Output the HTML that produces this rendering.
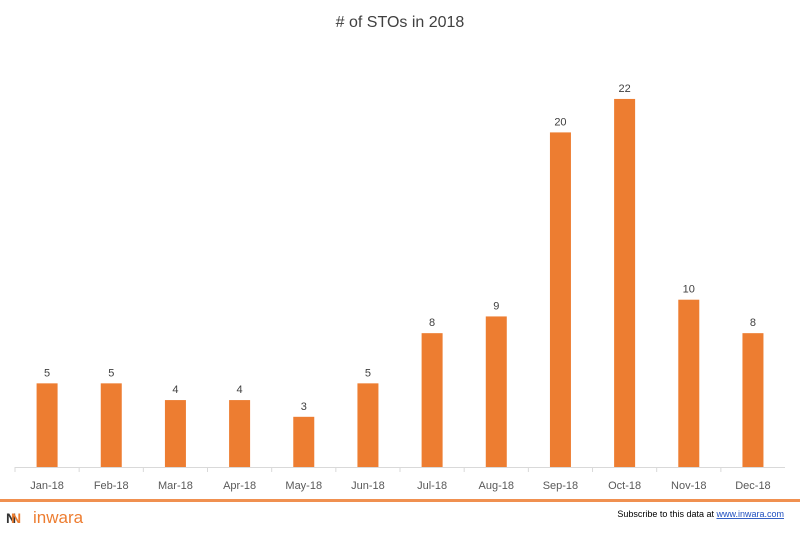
<!DOCTYPE html>
<html><head><meta charset="utf-8"><style>
body{margin:0;width:800px;height:532px;background:#fff;overflow:hidden;font-family:"Liberation Sans",sans-serif}
</style></head><body>
<svg id="chart" width="800" height="532">
<text x="400" y="27" text-anchor="middle" font-size="16" fill="#404040"># of STOs in 2018</text>
<g id="bars"></g>
<line x1="15" y1="467.5" x2="785" y2="467.5" stroke="#d9d9d9"/>
<rect x="0" y="499" width="800" height="3" fill="#ed7d31" opacity="0.85"/>
<g>
<text x="6" y="523" font-size="14" font-weight="bold" fill="#333">N</text>
<text x="11" y="523" font-size="14" font-weight="bold" fill="#ed7d31">N</text>
<text x="33" y="523" font-size="17" fill="#ed7d31">inwara</text>
</g>
<text x="784" y="517" text-anchor="end" font-size="9" fill="#000">Subscribe to this data at <tspan fill="#1f4fbf" text-decoration="underline">www.inwara.com</tspan></text>
</svg>
<script>
const categories=["Jan-18","Feb-18","Mar-18","Apr-18","May-18","Jun-18","Jul-18","Aug-18","Sep-18","Oct-18","Nov-18","Dec-18"];
const values=[5,5,4,4,3,5,8,9,20,22,10,8];
const NS="http://www.w3.org/2000/svg";
const x0=15,step=64.17,base=467,unit=16.73,bw=21;
const xs=i=>x0+step*i+step/2;
const ys=v=>base-v*unit;
const g=document.getElementById('bars');
categories.forEach((c,i)=>{
  const r=document.createElementNS(NS,'rect');
  r.setAttribute('x',xs(i)-bw/2);r.setAttribute('y',ys(values[i]));
  r.setAttribute('width',bw);r.setAttribute('height',base-ys(values[i]));
  r.setAttribute('fill','#ed7d31');
  
  
  g.appendChild(r);
  const t=document.createElementNS(NS,'text');
  t.setAttribute('x',xs(i));t.setAttribute('y',ys(values[i])-7);
  t.setAttribute('text-anchor','middle');t.setAttribute('font-size','11');t.setAttribute('fill','#404040');
  t.textContent=values[i];
  
  
  g.appendChild(t);
  const l=document.createElementNS(NS,'text');
  l.setAttribute('x',xs(i));l.setAttribute('y',489);
  l.setAttribute('text-anchor','middle');l.setAttribute('font-size','11');l.setAttribute('fill','#595959');
  l.textContent=c;
  
  
  g.appendChild(l);
  const tk=document.createElementNS(NS,'line');
  const tx=x0+step*i;
  tk.setAttribute('x1',tx);tk.setAttribute('x2',tx);tk.setAttribute('y1',467);tk.setAttribute('y2',472);
  tk.setAttribute('stroke','#d9d9d9');
  
  
  g.appendChild(tk);
});
</script>
</body></html>
